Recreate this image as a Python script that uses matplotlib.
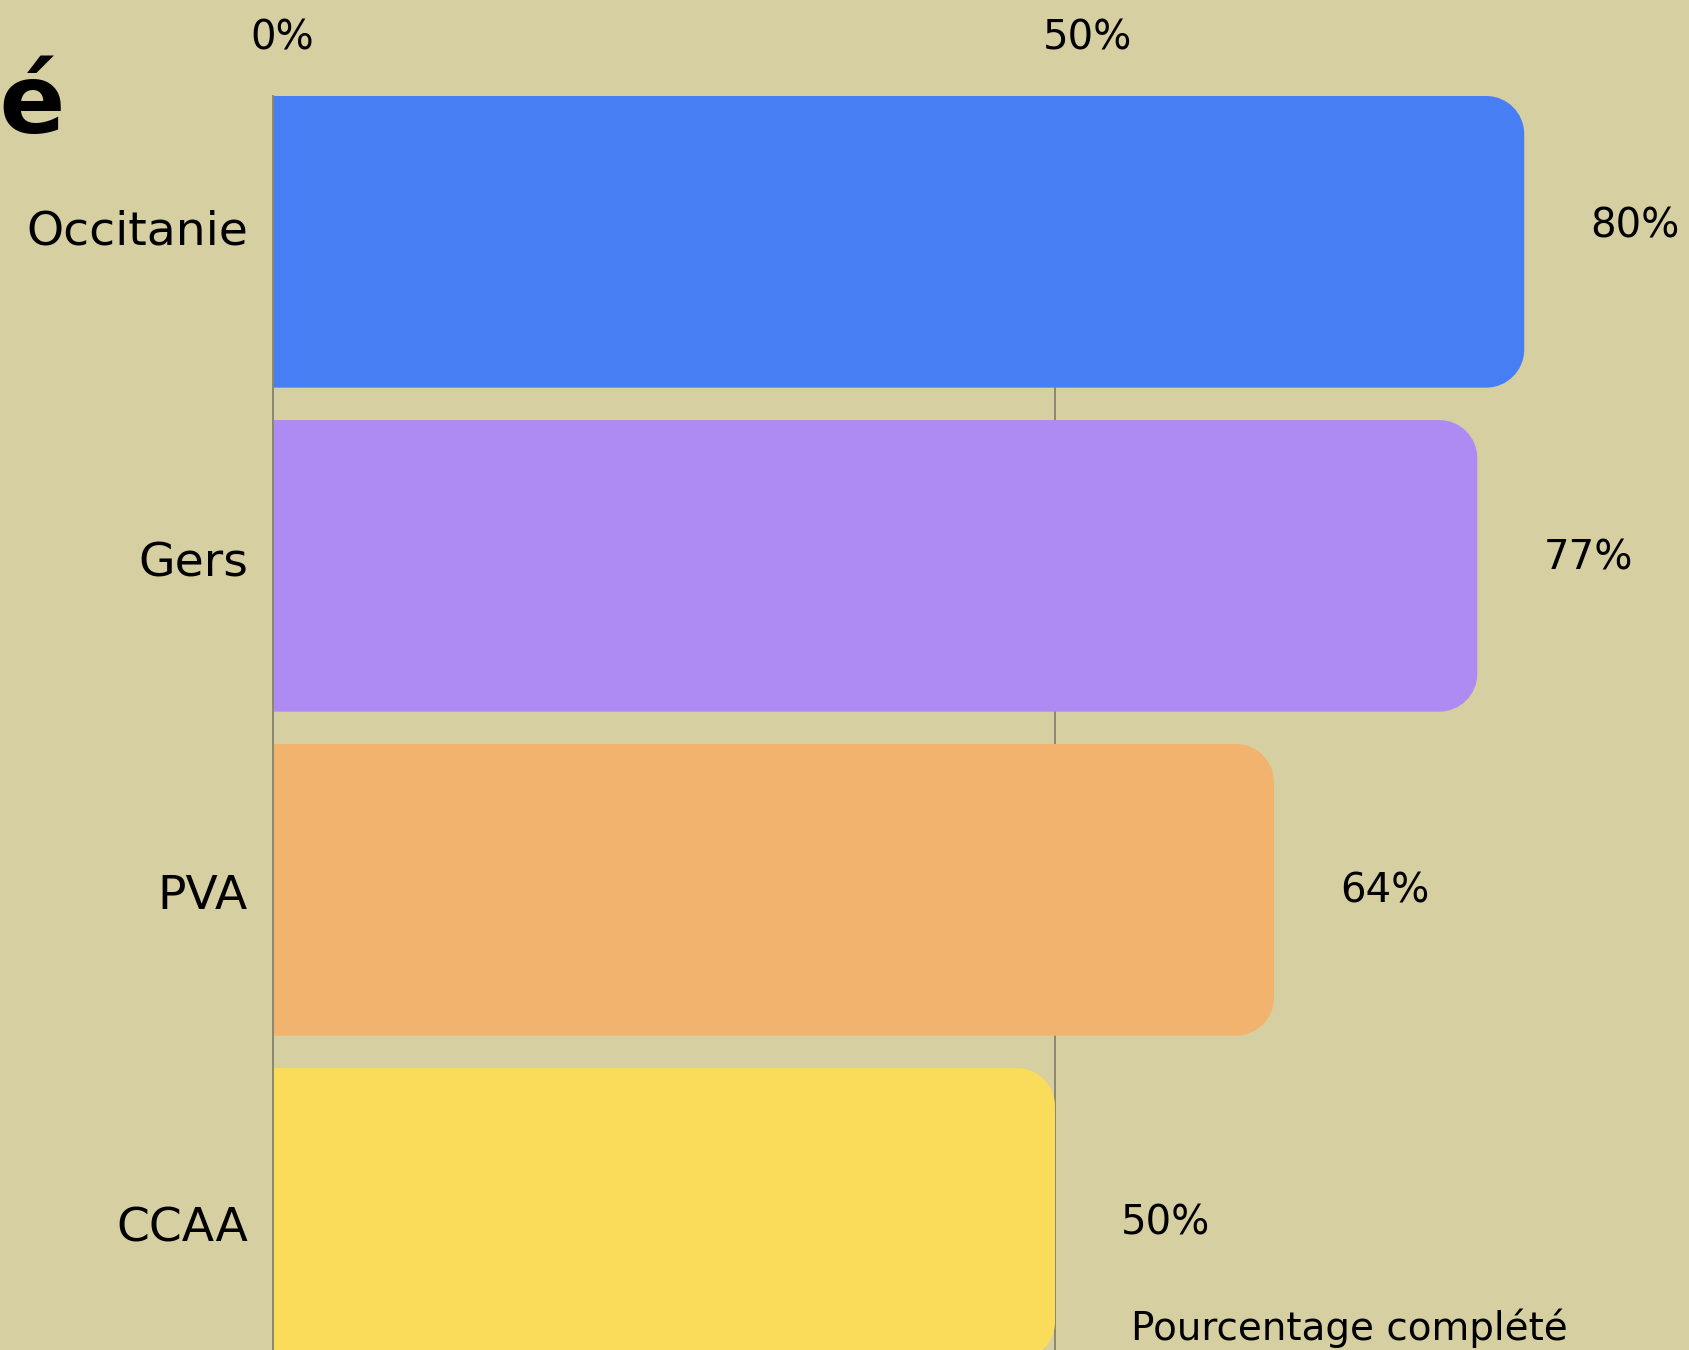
import matplotlib
matplotlib.use("Agg")
import matplotlib.pyplot as plt
from matplotlib.path import Path
from matplotlib.patches import PathPatch
from matplotlib.transforms import ScaledTranslation
import numpy as np

categories = ["Occitanie", "Gers", "PVA", "CCAA"]
values = [80, 77, 64, 50]
colors = ["#477EF4", "#AE8AF3", "#F2B36E", "#FADC5A"]
xticks = [0, 50]
xtick_labels = ["0%", "50%"]
value_labels = ["80%", "77%", "64%", "50%"]
axis_label = "Pourcentage complété"
title_fragment = "té"

BG = "#D6CFA1"
GRID = "#8C8770"
FONT = "DejaVu Sans"

W, H = 1690, 1350
fig = plt.figure(figsize=(W / 100, H / 100), dpi=100, facecolor=BG)
ax = fig.add_axes([273 / W, 0, (W - 273) / W, (H - 96) / H])
ax.set_facecolor(BG)
ax.set_xlim(0, 90.6)
ax.set_ylim(3.42, -0.45)

ypos = np.arange(len(categories))
# label band is slightly wider than the bar band in the original
label_pos = ypos * 1.0256 - 0.047
bars = ax.barh(ypos, values, height=0.9, color=colors, zorder=2)

ax.set_xticks(xticks)
ax.xaxis.grid(True, color=GRID, lw=1.4, zorder=0)
ax.set_axisbelow(True)

for s in ["top", "right", "bottom"]:
    ax.spines[s].set_visible(False)
ax.spines["left"].set_color(GRID)
ax.spines["left"].set_linewidth(1.4)

ax.xaxis.tick_top()
ax.set_xticklabels(xtick_labels, fontsize=29, family=FONT)
ax.tick_params(axis="x", length=0, pad=27)
for lab, dx in zip(ax.get_xticklabels(), [9, 33]):
    lab.set_transform(lab.get_transform() + ScaledTranslation(dx / 100, 0, fig.dpi_scale_trans))

ax.set_yticks(label_pos)
ax.set_yticklabels(categories, fontsize=34, family=FONT)
ax.tick_params(axis="y", length=0, pad=18)

# rounded right corners
fig.canvas.draw()
r = 38
k = 0.5523
inv = ax.transData.inverted()
for b, c in zip(bars, colors):
    (x0, ya), (x1, yb) = ax.transData.transform([(b.get_x(), b.get_y()), (b.get_x() + b.get_width(), b.get_y() + b.get_height())])
    y0, y1 = min(ya, yb), max(ya, yb)
    verts = [
        (x0, y0), (x1 - r, y0),
        (x1 - r + k * r, y0), (x1, y0 + r - k * r), (x1, y0 + r),
        (x1, y1 - r),
        (x1, y1 - r + k * r), (x1 - r + k * r, y1), (x1 - r, y1),
        (x0, y1), (x0, y0),
    ]
    codes = [Path.MOVETO, Path.LINETO,
             Path.CURVE4, Path.CURVE4, Path.CURVE4,
             Path.LINETO,
             Path.CURVE4, Path.CURVE4, Path.CURVE4,
             Path.LINETO, Path.CLOSEPOLY]
    dverts = inv.transform(verts)
    patch = PathPatch(Path(dverts, codes), facecolor=c, edgecolor="none", zorder=2,
                      transform=ax.transData, clip_on=True)
    b.set_visible(False)
    ax.add_patch(patch)

for i, (v, t) in enumerate(zip(values, value_labels)):
    ax.annotate(t, xy=(v, label_pos[i]), xytext=(66, 0), textcoords="offset pixels",
                ha="left", va="center", fontsize=29, family=FONT, annotation_clip=False)

fig.text(1131 / W, (H - 1340) / H, axis_label, fontsize=28, family=FONT, ha="left", va="baseline")
fig.text(66 / W, (H - 133) / H, title_fragment, fontsize=70, family=FONT, weight="bold",
         ha="right", va="baseline")

fig.savefig("out.png", dpi=100, facecolor=BG)
